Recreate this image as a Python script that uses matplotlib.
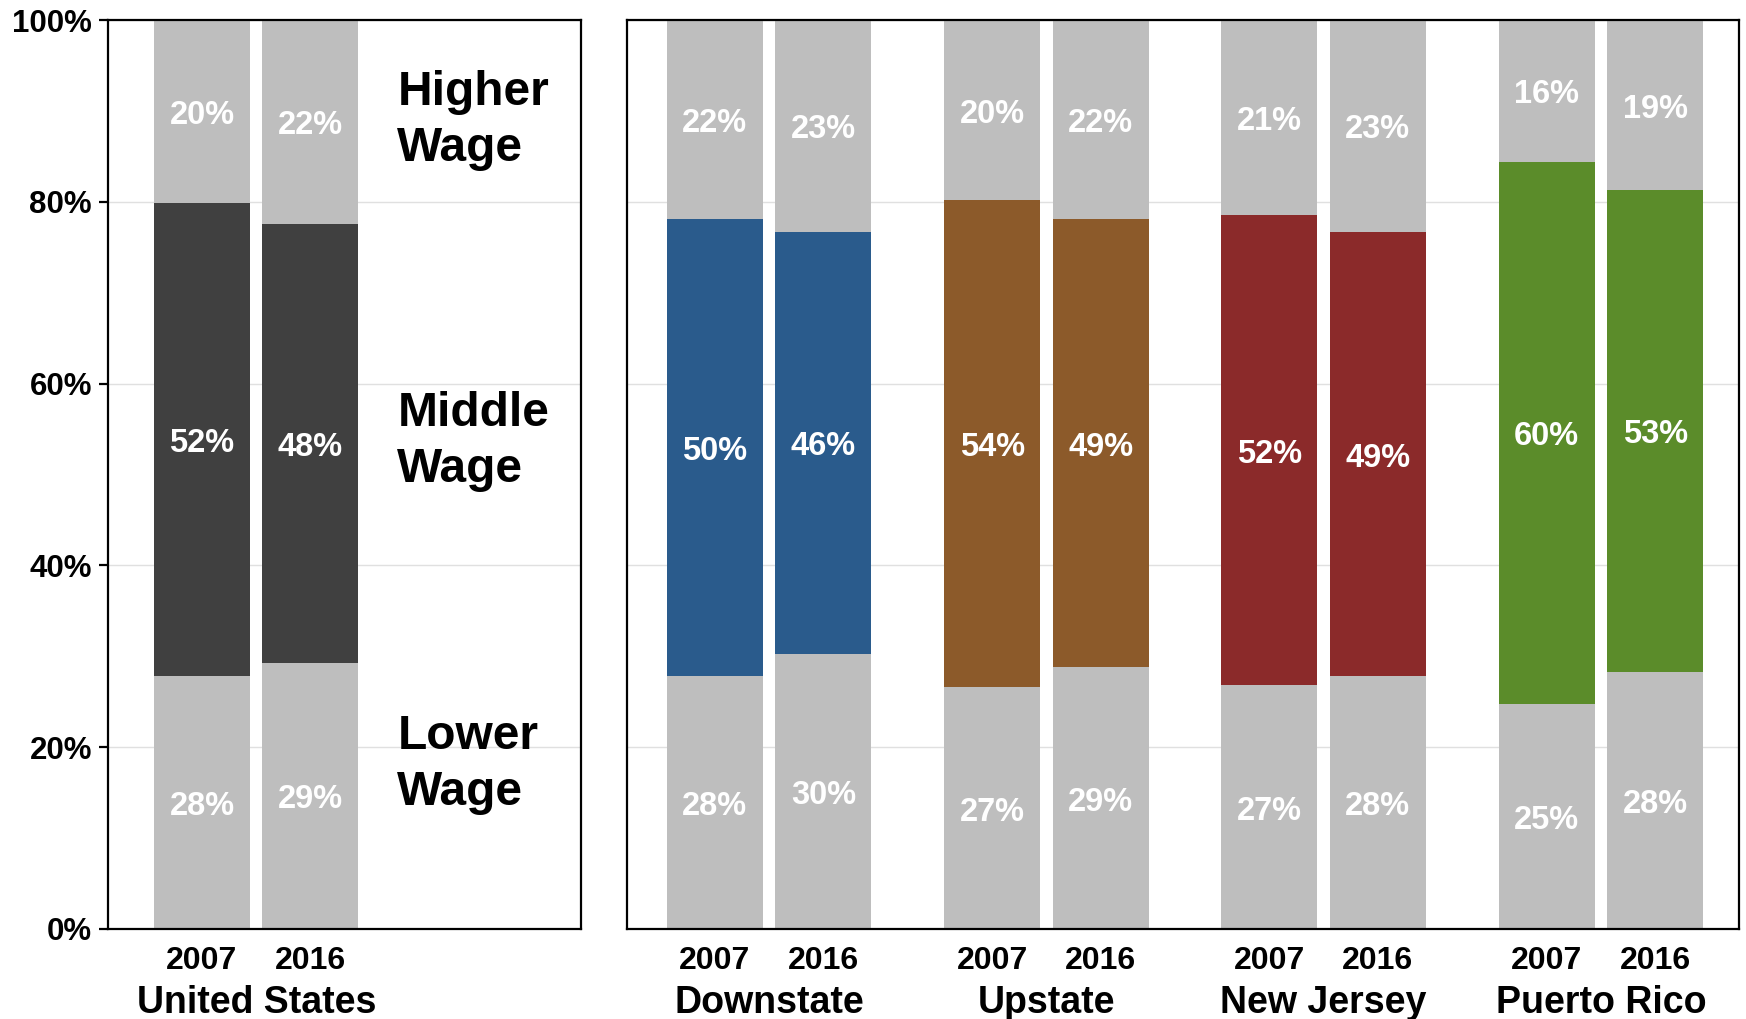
import numpy as np
from matplotlib import pyplot as plt

plt.rcParams['font.family'] = ['Liberation Sans', 'DejaVu Sans']
plt.rcParams['font.weight'] = 'bold'

regions = ['United States', 'Downstate', 'Upstate', 'New Jersey', 'Puerto Rico']
years = ['2007', '2016']

# share of jobs (%) per region, 2007 and 2016
lower = [[27.8, 29.3], [27.8, 30.3], [26.6, 28.8], [26.8, 27.8], [24.8, 28.3]]
middle = [[52.1, 48.3], [50.3, 46.4], [53.6, 49.3], [51.8, 48.9], [59.6, 53.0]]
higher = [[20.1, 22.4], [21.9, 23.3], [19.8, 21.9], [21.4, 23.3], [15.6, 18.7]]

wage_labels = ['Higher\nWage', 'Middle\nWage', 'Lower\nWage']
wage_label_y = [88.9, 53.6, 18.1]

yticks = [0, 20, 40, 60, 80, 100]

gray = '#BEBEBE'
middle_colors = ['#404040', '#2A5B8C', '#8C5A2A', '#8B2A2A', '#5B8C2A']
grid_color = '#E0E0E0'

bar_width = 0.885
group_step = 2.556
label_size = 23.5
label_drop = 0.45  # nudge so the glyphs sit at the segment middle


def draw_group(ax, i, center):
    xs = [center - 0.5, center + 0.5]
    for j, x in enumerate(xs):
        lo, mid, hi = lower[i][j], middle[i][j], higher[i][j]
        ax.bar(x, lo, width=bar_width, color=gray, zorder=2)
        ax.bar(x, mid, bottom=lo, width=bar_width, color=middle_colors[i], zorder=2)
        ax.bar(x, hi, bottom=lo + mid, width=bar_width, color=gray, zorder=2)
        for bottom, v in [(0, lo), (lo, mid), (lo + mid, hi)]:
            ax.text(x, bottom + v / 2 - label_drop, f'{v:.0f}%', ha='center',
                    va='center', color='white', fontsize=label_size,
                    fontweight='bold', zorder=3)
        ax.text(x, -0.035, years[j], transform=ax.get_xaxis_transform(),
                ha='center', va='center', fontsize=23, fontweight='bold')
    ax.text(center, -0.0815, regions[i], transform=ax.get_xaxis_transform(),
            ha='center', va='center', fontsize=27, fontweight='bold')


def style_axes(ax):
    ax.set_ylim(0, 100)
    ax.set_yticks(yticks)
    ax.yaxis.grid(True, color=grid_color, linewidth=1, zorder=0)
    ax.set_axisbelow(True)
    ax.set_xticks([])
    for s in ax.spines.values():
        s.set_linewidth(1.6)
        s.set_color('black')


fig = plt.figure(figsize=(17.46, 10.19), dpi=100)
W, H = 1746, 1019
ax_us = fig.add_axes([108 / W, 1 - 929 / H, (581 - 108) / W, (929 - 20) / H])
ax_ny = fig.add_axes([627 / W, 1 - 929 / H, (1739 - 627) / W, (929 - 20) / H])

# United States panel
draw_group(ax_us, 0, 0)
style_axes(ax_us)
ax_us.set_xlim(-1.366, 2.993)
ax_us.set_yticklabels([f'{t}%' for t in yticks])
ax_us.tick_params(axis='y', length=6.5, width=1.6, pad=5, labelsize=22.5)
for txt, y in zip(wage_labels, wage_label_y):
    ax_us.text(1.30, y, txt, ha='left', va='center', fontsize=34.5,
               fontweight='bold', linespacing=1.32)

# regional panel
for k in range(1, 5):
    draw_group(ax_ny, k, (k - 1) * group_step)
style_axes(ax_ny)
ax_ny.set_xlim(-1.309, 3 * group_step + 1.272)
ax_ny.tick_params(axis='y', length=0, labelleft=False)

plt.savefig('out.png', dpi=100)
